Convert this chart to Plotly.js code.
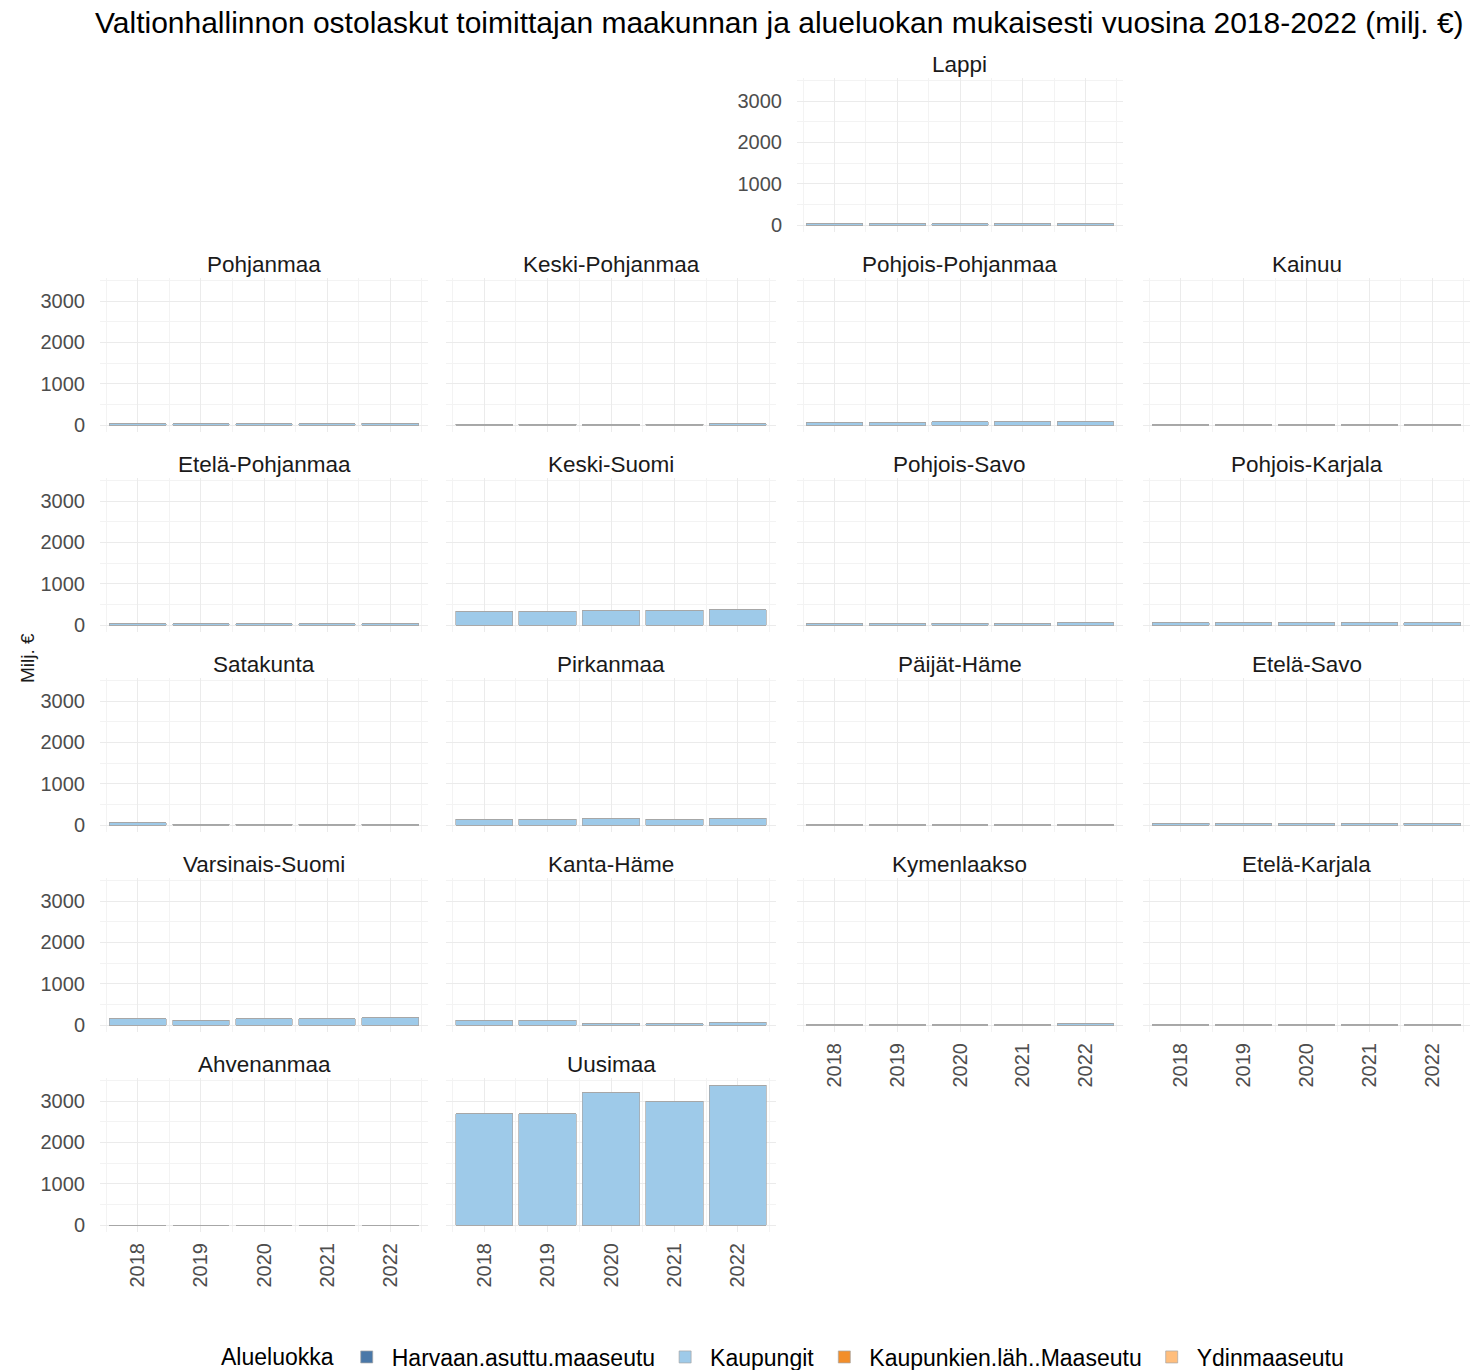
<!DOCTYPE html>
<html>
<head>
<meta charset="utf-8">
<script src="https://cdn.plot.ly/plotly-3.0.1.min.js"></script>
<style>
html,body{margin:0;padding:0;background:#fff;overflow:hidden;}
#chart{width:1477px;height:1370px;}
</style>
</head>
<body>
<div id="chart"></div>
<script>
// ---------- DATA ----------
const years = [2018, 2019, 2020, 2021, 2022];
const categories = ["Harvaan.asuttu.maaseutu", "Kaupungit", "Kaupunkien.läh..Maaseutu", "Ydinmaaseutu"];
const regions = [
  "Lappi",
  "Pohjanmaa", "Keski-Pohjanmaa", "Pohjois-Pohjanmaa", "Kainuu",
  "Etelä-Pohjanmaa", "Keski-Suomi", "Pohjois-Savo", "Pohjois-Karjala",
  "Satakunta", "Pirkanmaa", "Päijät-Häme", "Etelä-Savo",
  "Varsinais-Suomi", "Kanta-Häme", "Kymenlaakso", "Etelä-Karjala",
  "Ahvenanmaa", "Uusimaa"
];
// Kaupungit (milj. €) per region, 2018-2022
const kaupungit = [
  [30, 30, 30, 30, 30],
  [35, 35, 35, 35, 40],
  [20, 20, 20, 20, 25],
  [70, 70, 75, 75, 80],
  [10, 10, 10, 10, 10],
  [30, 30, 25, 30, 30],
  [330, 330, 350, 355, 375],
  [30, 45, 45, 45, 50],
  [60, 55, 60, 60, 60],
  [60, 20, 20, 20, 20],
  [145, 145, 165, 145, 165],
  [10, 10, 10, 10, 10],
  [40, 40, 40, 40, 40],
  [150, 115, 150, 150, 180],
  [110, 110, 25, 25, 70],
  [10, 10, 10, 10, 30],
  [10, 10, 10, 10, 10],
  [0, 0, 0, 0, 0],
  [2690, 2690, 3200, 3000, 3390]
];
// Other area classes (too small to be seen in the picture)
const harvaan = [
  [0,0,0,0,0],[0,0,0,0,0],[0,0,0,0,0],[0,0,0,0,0],[0,0,0,0,0],
  [0,0,0,0,0],[0,0,0,0,0],[0,0,0,0,0],[0,0,0,0,0],[0,0,0,0,0],
  [0,0,0,0,0],[0,0,0,0,0],[0,0,0,0,0],[0,0,0,0,0],[0,0,0,0,0],
  [0,0,0,0,0],[0,0,0,0,0],[0,0,0,0,0],[0,0,0,0,0]
];
const lahimaaseutu = [
  [0,0,0,0,0],[0,0,0,0,0],[0,0,0,0,0],[0,0,0,0,0],[0,0,0,0,0],
  [0,0,0,0,0],[0,0,0,0,0],[0,0,0,0,0],[0,0,0,0,0],[0,0,0,0,0],
  [0,0,0,0,0],[0,0,0,0,0],[0,0,0,0,0],[0,0,0,0,0],[0,0,0,0,0],
  [0,0,0,0,0],[0,0,0,0,0],[0,0,0,0,0],[0,0,0,0,0]
];
const ydinmaaseutu = [
  [0,0,0,0,0],[0,0,0,0,0],[0,0,0,0,0],[0,0,0,0,0],[0,0,0,0,0],
  [0,0,0,0,0],[0,0,0,0,0],[0,0,0,0,0],[0,0,0,0,0],[0,0,0,0,0],
  [0,0,0,0,0],[0,0,0,0,0],[0,0,0,0,0],[0,0,0,0,0],[0,0,0,0,0],
  [0,0,0,0,0],[0,0,0,0,0],[0,0,0,0,0],[0,0,0,0,0]
];
const yTicks = [0, 1000, 2000, 3000];
const titleText = "Valtionhallinnon ostolaskut toimittajan maakunnan ja alueluokan mukaisesti vuosina 2018-2022 (milj. €)";
const yTitleText = "Milj. €";
const legendTitleText = "Alueluokka";

// ---------- STYLE / LAYOUT ----------
const W = 1477, H = 1370;
const catColors = ["#4a78a8", "#9ecae9", "#f28e2b", "#ffbe7d"];
const seriesData = [harvaan, kaupungit, lahimaaseutu, ydinmaaseutu];
// grid position of each region (row, col)
const gridRow = [0, 1,1,1,1, 2,2,2,2, 3,3,3,3, 4,4,4,4, 5,5];
const gridCol = [2, 0,1,2,3, 0,1,2,3, 0,1,2,3, 0,1,2,3, 0,1];
const colLeft  = [100, 446, 797, 1143];
const colRight = [428, 776, 1123, 1470];
const rowTop0 = 78, rowPitch = 200, panelH = 154;
const FONT = "Liberation Sans, Arial, sans-serif";

// y range with 5% expansion like ggplot
let maxTotal = 0;
for (let r = 0; r < regions.length; r++) {
  for (let k = 0; k < years.length; k++) {
    let t = 0;
    for (let s = 0; s < seriesData.length; s++) t += seriesData[s][r][k];
    if (t > maxTotal) maxTotal = t;
  }
}
const yRange = [-0.05 * maxTotal, maxTotal * 1.05];

const traces = [];
const layout = {
  width: W, height: H,
  margin: {l: 0, r: 0, t: 0, b: 0, autoexpand: false},
  paper_bgcolor: "#ffffff",
  plot_bgcolor: "#ffffff",
  barmode: "stack",
  bargap: 0.1,
  showlegend: true,
  font: {family: FONT, color: "#1a1a1a"},
  title: {
    text: titleText,
    x: 95 / W, xanchor: "left", xref: "paper",
    y: 1 - 22 / H, yanchor: "middle", yref: "container",
    font: {family: FONT, size: 30, color: "#000000"}
  },
  legend: {
    orientation: "h",
    xref: "container", yref: "container",
    x: 784 / W, xanchor: "center",
    y: 1 - 1357 / H, yanchor: "middle",
    title: {text: legendTitleText, side: "left", font: {size: 23, color: "#000"}},
    font: {size: 23, color: "#000", family: FONT},
    itemwidth: 40,
    traceorder: "normal"
  },
  annotations: [],
  shapes: []
};

function isLeftmost(i) {
  const r = gridRow[i], c = gridCol[i];
  for (let j = 0; j < regions.length; j++) {
    if (gridRow[j] === r && gridCol[j] < c) return false;
  }
  return true;
}
function isBottom(i) {
  const r = gridRow[i], c = gridCol[i];
  for (let j = 0; j < regions.length; j++) {
    if (gridCol[j] === c && gridRow[j] > r) return false;
  }
  return true;
}

for (let i = 0; i < regions.length; i++) {
  const n = i + 1;
  const xa = "x" + n, ya = "y" + n;
  const top = rowTop0 + rowPitch * gridRow[i];
  const bot = top + panelH;
  const l = colLeft[gridCol[i]], rr = colRight[gridCol[i]];
  layout["xaxis" + n] = {
    domain: [l / W, rr / W],
    anchor: ya,
    range: [years[0] - 0.6, years[years.length - 1] + 0.6],
    tickmode: "array",
    tickvals: years,
    ticktext: years.map(String),
    showticklabels: isBottom(i),
    tickangle: -90,
    tickfont: {size: 20, color: "#4d4d4d", family: FONT},
    ticks: "",
    ticklabelstandoff: 6,
    automargin: false,
    showgrid: true, gridcolor: "#ebebeb", gridwidth: 1,
    minor: {tickmode: "linear", tick0: years[0] - 0.5, dtick: 1, showgrid: true, gridcolor: "#f3f3f3", gridwidth: 1},
    zeroline: false, showline: false,
    fixedrange: true
  };
  layout["yaxis" + n] = {
    domain: [1 - bot / H, 1 - top / H],
    anchor: xa,
    range: yRange,
    tickmode: "array",
    tickvals: yTicks,
    ticktext: yTicks.map(String),
    showticklabels: isLeftmost(i),
    tickfont: {size: 20, color: "#4d4d4d", family: FONT},
    ticks: "",
    ticklabelstandoff: 14,
    automargin: false,
    showgrid: true, gridcolor: "#ebebeb", gridwidth: 1,
    minor: {tickmode: "linear", tick0: 500, dtick: 1000, showgrid: true, gridcolor: "#f3f3f3", gridwidth: 1},
    zeroline: false, showline: false,
    fixedrange: true
  };
  // strip title
  layout.annotations.push({
    text: regions[i],
    xref: "paper", yref: "paper",
    x: (l + rr) / 2 / W, y: 1 - top / H,
    xanchor: "center", yanchor: "bottom",
    yshift: -1,
    showarrow: false,
    font: {size: 22.5, color: "#1a1a1a", family: FONT}
  });
  for (let s = 0; s < categories.length; s++) {
    traces.push({
      type: "bar",
      name: categories[s],
      legendgroup: categories[s],
      showlegend: i === 0,
      x: years,
      y: seriesData[s][i],
      xaxis: xa, yaxis: ya,
      width: 0.9,
      marker: {color: catColors[s], line: {color: "#a6a6a6", width: 0.7}},
      hoverinfo: "x+y+name"
    });
  }
}

// y axis title
layout.annotations.push({
  text: yTitleText,
  xref: "paper", yref: "paper",
  x: 28 / W, y: 1 - 658 / H,
  xanchor: "center", yanchor: "middle",
  textangle: -90,
  showarrow: false,
  font: {size: 19, color: "#1a1a1a", family: FONT}
});

Plotly.newPlot("chart", traces, layout, {displayModeBar: false, staticPlot: true});
</script>
</body>
</html>
